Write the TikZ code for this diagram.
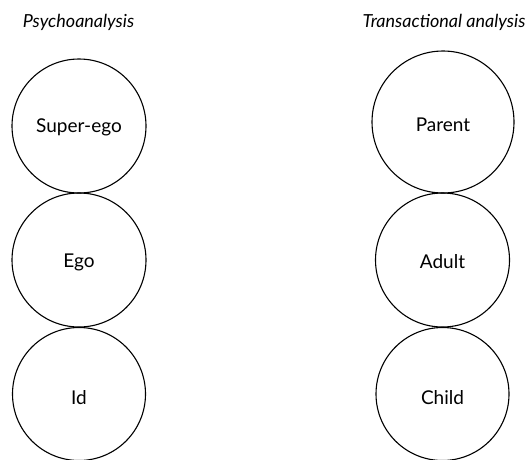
\documentclass[tikz,border=0pt]{standalone}
\usepackage{fontspec}
\setmainfont{Lato}
\begin{document}
\begin{tikzpicture}[x=1pt,y=-1pt,
  ring/.style={circle,draw,line width=1.1pt,inner sep=0pt,minimum size=134pt},
  txt/.style={font=\fontsize{19}{22}\selectfont},
  heading/.style={font=\fontsize{18}{21}\selectfont\itshape}]
\useasboundingbox (0,0) rectangle (532,459);
\node[heading] (h1) at (78.5,22) {Psychoanalysis};
\node[heading] (h2) at (444,22) {Transactional analysis};
\node[ring] (se) at (79,126) {};
\node[ring] (ego) at (79,260) {};
\node[ring,minimum size=133pt] (id) at (79,394) {};
\node[ring,minimum size=142pt] (pa) at (443,122) {};
\node[ring] (ad) at (442.5,260) {};
\node[ring,minimum size=133pt] (ch) at (442.5,394) {};
\node[txt] (tse) at (79,127) {Super-ego};
\node[txt] (tego) at (79,262) {Ego};
\node[txt] (tid) at (79,398) {Id};
\node[txt] (tpa) at (443,124.5) {Parent};
\node[txt] (tad) at (442.5,262) {Adult};
\node[txt] (tch) at (442.5,398) {Child};
\end{tikzpicture}
\end{document}
